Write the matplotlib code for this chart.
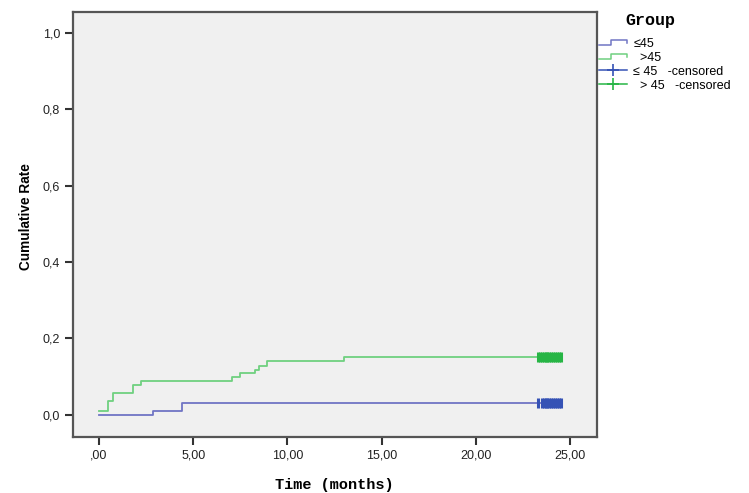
import matplotlib
matplotlib.use("Agg")
import matplotlib.pyplot as plt
from matplotlib.lines import Line2D
from matplotlib.legend_handler import HandlerBase
from matplotlib.ticker import FixedLocator, FixedFormatter

# ---- data ----
blue_times = [0.0, 2.88, 4.39, 24.6]
blue_rate = [0.0, 0.011, 0.031, 0.031]
green_times = [0.0, 0.48, 0.74, 1.79, 2.23, 7.07, 7.48, 8.28, 8.49, 8.93, 13.0, 24.6]
green_rate = [0.01, 0.035, 0.058, 0.079, 0.089, 0.099, 0.109, 0.118, 0.129, 0.140, 0.151, 0.151]
blue_cens = [23.3, 23.5, 23.6, 23.7, 23.8, 23.9, 24.0, 24.1, 24.2, 24.3, 24.4, 24.5]
green_cens = [23.3, 23.4, 23.5, 23.6, 23.7, 23.8, 23.9, 24.0, 24.1, 24.2, 24.3, 24.4, 24.5]
x_ticks = [0, 5, 10, 15, 20, 25]
x_labels = [",00", "5,00", "10,00", "15,00", "20,00", "25,00"]
y_ticks = [0.0, 0.2, 0.4, 0.6, 0.8, 1.0]
y_labels = ["0,0", "0,2", "0,4", "0,6", "0,8", "1,0"]
legend_title = "Group"
legend_labels = ["\u226445", "  >45", "\u2264 45   -censored", "  > 45   -censored"]

blue_line = "#7075c4"
green_line = "#6fd080"
blue_mark = "#3552b5"
green_mark = "#27b545"

fig = plt.figure(figsize=(7.49, 4.93), dpi=100)
ax = fig.add_axes([0.097, 0.1136, 0.70, 0.862])
ax.set_facecolor("#f0f0f0")

ax.step(blue_times, blue_rate, where="post", color=blue_line, lw=1.3)
ax.step(green_times, green_rate, where="post", color=green_line, lw=1.3)

def rate_at(times, rates, t):
    v = rates[0]
    for ti, ri in zip(times, rates):
        if ti <= t:
            v = ri
    return v

ax.plot(blue_cens, [rate_at(blue_times, blue_rate, t) for t in blue_cens],
        linestyle="none", marker="|", ms=7, mew=2.2, color=blue_mark)
ax.plot(green_cens, [rate_at(green_times, green_rate, t) for t in green_cens],
        linestyle="none", marker="|", ms=7, mew=2.2, color=green_mark)

ax.set_xlim(-1.4, 26.43)
ax.set_ylim(-0.058, 1.055)
ax.xaxis.set_major_locator(FixedLocator(x_ticks))
ax.xaxis.set_major_formatter(FixedFormatter(x_labels))
ax.yaxis.set_major_locator(FixedLocator(y_ticks))
ax.yaxis.set_major_formatter(FixedFormatter(y_labels))
ax.tick_params(direction="out", length=6, width=1.5, color="#333333",
               labelsize=9, labelcolor="#222222", pad=3)
for lab in ax.get_xticklabels() + ax.get_yticklabels():
    lab.set_family("Liberation Sans")
for s in ax.spines.values():
    s.set_color("#555555")
    s.set_linewidth(1.6)

ax.set_xlabel("Time (months)", family="Liberation Mono", fontweight="bold",
              fontsize=11, labelpad=12)
ax.set_ylabel("Cumulative Rate", family="Liberation Sans",
              fontweight="bold", fontsize=9.8)
ax.yaxis.set_label_coords(-0.076, 0.518)


class StepHandler(HandlerBase):
    def __init__(self, color):
        super().__init__()
        self.color = color

    def create_artists(self, legend, orig_handle, xdescent, ydescent, width, height, fontsize, trans):
        x0, x1 = -xdescent, -xdescent + width
        y0, y1 = -ydescent + height * 0.2, -ydescent + height * 0.8
        xm = x0 + width * 0.45
        xs = [x0, xm, xm, x1, x1]
        ys = [y0, y0, y1, y1, y1 - height * 0.35]
        ln = Line2D(xs, ys, color=self.color, lw=1.1, transform=trans)
        return [ln]


h1 = Line2D([], [], color=blue_line)
h2 = Line2D([], [], color=green_line)
h3 = Line2D([], [], color=blue_mark, marker="+", ms=9, mew=1.2, lw=1.1)
h4 = Line2D([], [], color=green_mark, marker="+", ms=9, mew=1.2, lw=1.1)
fig.text(625 / 749, 1 - 20 / 493, legend_title, family="Liberation Mono",
         fontweight="bold", fontsize=12, va="center", ha="left")
leg = fig.legend([h1, h2, h3, h4], legend_labels,
                 handler_map={h1: StepHandler(blue_line), h2: StepHandler(green_line)},
                 loc="upper left", bbox_to_anchor=(599 / 749, 1 - 38 / 493), frameon=False,
                 fontsize=9, handlelength=2.2, handletextpad=0.55,
                 labelspacing=0.15, numpoints=1, borderaxespad=0, borderpad=0)
for t in leg.get_texts():
    t.set_family("Liberation Sans")

fig.savefig("out.png", dpi=100, facecolor="white")
